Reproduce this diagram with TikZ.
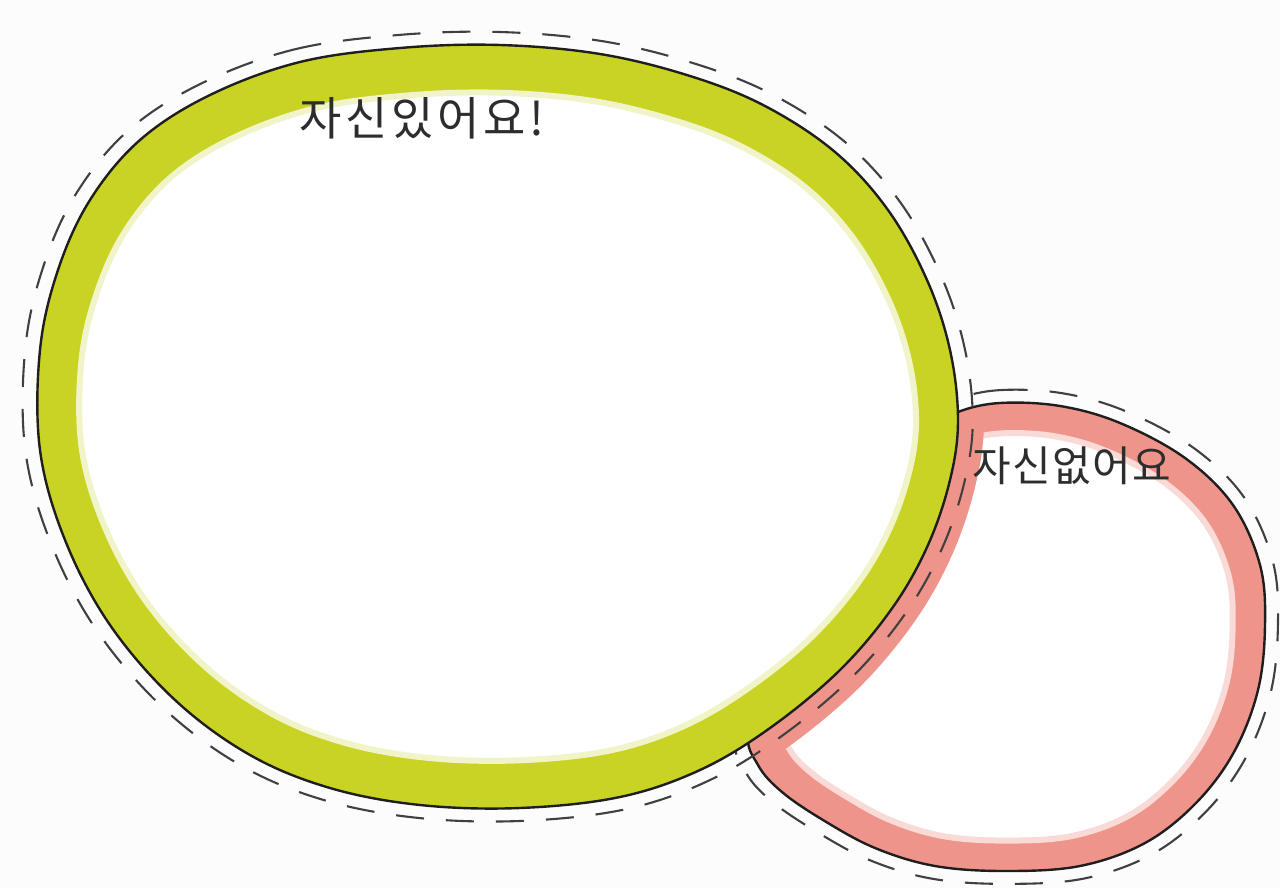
\documentclass[tikz,border=0pt]{standalone}
\usepackage{fontspec}
\newfontfamily\kr{Noto Sans CJK KR}
\definecolor{bg}{RGB}{252,252,252}
\definecolor{lime}{RGB}{201,211,36}
\definecolor{salmon}{RGB}{239,148,138}
\definecolor{ink}{RGB}{30,30,30}
\definecolor{txt}{RGB}{45,45,45}
\tikzset{
  greenshape/.style={insert path={plot[smooth cycle, tension=0.6] coordinates {
    (210,95) (300,62) (400,48) (500,45) (600,54) (690,76) (765,106) (835,152) (888,210)
    (927,280) (950,350) (958,420) (950,480) (928,545) (893,607) (840,670) (770,728)
    (700,770) (620,797) (520,808) (420,805) (330,788) (250,755) (175,700) (110,625)
    (65,540) (40,450) (40,350) (58,270) (90,200) (140,140)}}},
  pinkshape/.style={insert path={plot[smooth cycle, tension=0.6] coordinates {
    (958,412) (1000,403) (1060,406) (1120,423) (1185,458) (1233,505) (1260,565)
    (1265,625) (1258,690) (1234,752) (1196,803) (1145,843) (1080,866) (1005,871)
    (935,866) (875,848) (823,820) (782,792) (758,765) (748,730) (770,650) (820,560)
    (880,480) (930,430)}}},
  outline/.style={draw=ink, line width=1.2pt},
  dashline/.style={draw=ink!85, line width=1.05pt, dash pattern=on 14pt off 11pt},
  label/.style={text=txt, inner sep=0pt}
}
\begin{document}
\begin{tikzpicture}[x=0.5pt,y=-0.5pt]
\fill[bg] (0,0) rectangle (1280,888);
\useasboundingbox (0,0) rectangle (1280,888);
% pink (behind)
\fill[salmon, pinkshape];
\begin{scope}[shift={(1006,637)},xscale=0.875,yscale=0.87,shift={(-1006,-637)}]
  \fill[white, pinkshape];
  \draw[salmon!35!white, line width=3pt, pinkshape];
\end{scope}
\begin{scope}
  \clip[pinkshape];
  \draw[salmon, line width=26pt, greenshape];
\end{scope}
\draw[outline, pinkshape];
\begin{scope}[shift={(1006,637)},xscale=1.05,yscale=1.055,shift={(-1006,-637)}]
  \draw[dashline, pinkshape];
\end{scope}
% green (front)
\fill[lime, greenshape];
\begin{scope}[shift={(497,427)},xscale=0.909,yscale=0.875,shift={(-497,-427)}]
  \fill[white, greenshape];
  \draw[lime!25!white, line width=3pt, greenshape];
\end{scope}
\draw[outline, greenshape];
\begin{scope}[shift={(497,427)},xscale=1.032,yscale=1.034,shift={(-497,-427)}]
  \draw[dashline, greenshape];
\end{scope}
% labels
\node[label, font={\kr\addfontfeature{LetterSpace=8}\fontsize{23}{25}\selectfont}] (yes) at (422,118) {자신있어요!};
\node[label, font={\kr\addfontfeature{LetterSpace=3}\fontsize{21}{23}\selectfont}] (no) at (1072,466) {자신없어요};
\end{tikzpicture}
\end{document}
